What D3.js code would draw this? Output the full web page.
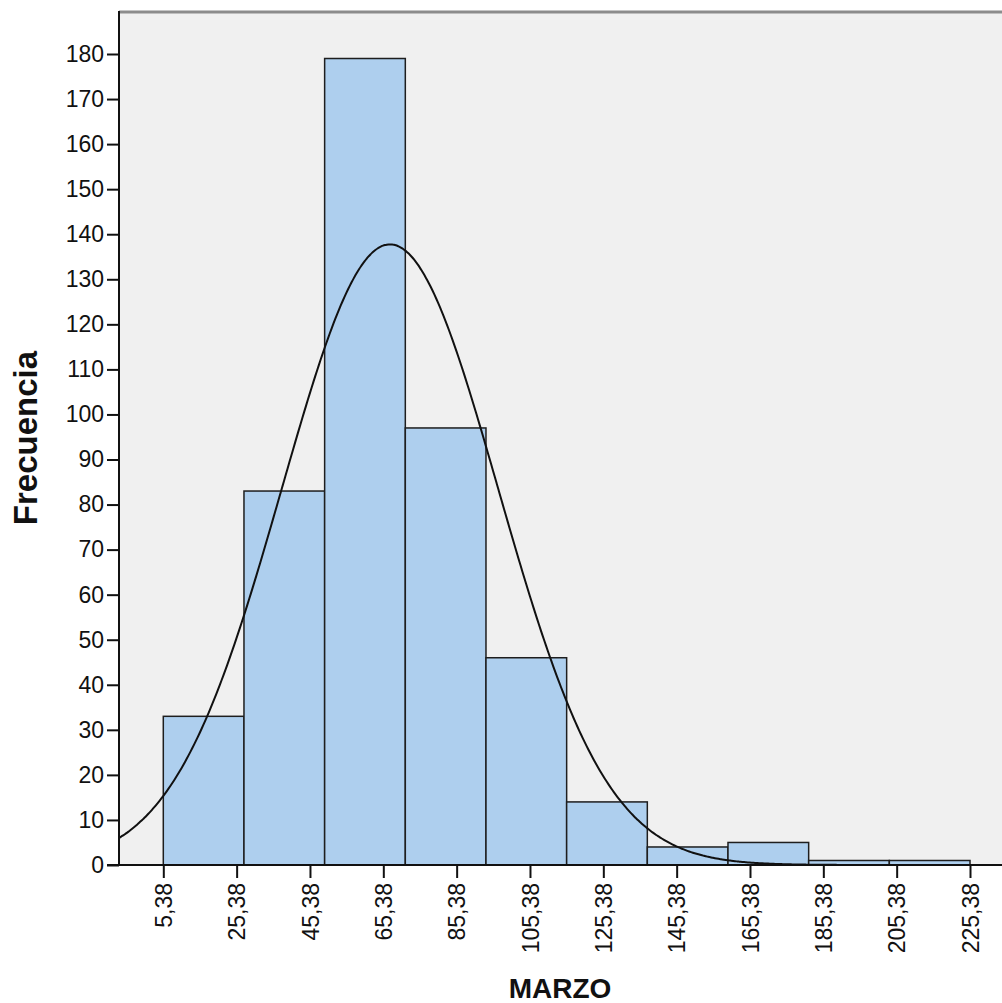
<!DOCTYPE html>
<html>
<head>
<meta charset="utf-8">
<script src="https://cdn.jsdelivr.net/npm/d3@7"></script>
<style>
  body { margin: 0; background: #fff; }
  svg text { font-family: "Liberation Sans", Arial, sans-serif; }
</style>
</head>
<body>
<div id="chart"></div>
<script>
// histogram of MARZO with normal curve

const binEdges = [5.38, 27.38, 49.38, 71.38, 93.38, 115.38, 137.38, 159.38, 181.38, 203.38, 225.38];
const counts = [33, 83, 179, 97, 46, 14, 4, 5, 1, 1];
const tickValues = [5.38, 25.38, 45.38, 65.38, 85.38, 105.38, 125.38, 145.38, 165.38, 185.38, 205.38, 225.38];
const tickLabels = ["5,38", "25,38", "45,38", "65,38", "85,38", "105,38", "125,38", "145,38", "165,38", "185,38", "205,38", "225,38"];
const yTicks = [0, 10, 20, 30, 40, 50, 60, 70, 80, 90, 100, 110, 120, 130, 140, 150, 160, 170, 180];
const fitMean = 67.2;
const fitSd = 29.5;

const width = 1002;
const height = 1003;
const plot = { left: 119, right: 1002, top: 12, bottom: 865 };

const svg = d3.select("#chart")
  .append("svg")
  .attr("width", width)
  .attr("height", height);

const x = d3.scaleLinear()
  .domain([5.38, 225.38])
  .range([163.3, 970]);

const y = d3.scaleLinear()
  .domain([0, 180])
  .range([865, 54]);

// plot background
svg.append("rect")
  .attr("x", plot.left)
  .attr("y", plot.top)
  .attr("width", plot.right - plot.left)
  .attr("height", plot.bottom - plot.top)
  .attr("fill", "#f0f0f0");

svg.append("defs").append("clipPath")
  .attr("id", "clip")
  .append("rect")
  .attr("x", plot.left)
  .attr("y", plot.top)
  .attr("width", plot.right - plot.left)
  .attr("height", plot.bottom - plot.top);

// bars
svg.append("g")
  .selectAll("rect")
  .data(counts)
  .enter()
  .append("rect")
  .attr("x", (d, i) => x(binEdges[i]))
  .attr("y", d => y(d))
  .attr("width", (d, i) => x(binEdges[i + 1]) - x(binEdges[i]))
  .attr("height", d => y(0) - y(d))
  .attr("fill", "#aecfee")
  .attr("stroke", "#1e1e1e")
  .attr("stroke-width", 1.5);

// normal curve
const N = d3.sum(counts);
const binW = binEdges[1] - binEdges[0];
const normal = v => N * binW / (fitSd * Math.sqrt(2 * Math.PI)) *
  Math.exp(-0.5 * Math.pow((v - fitMean) / fitSd, 2));

const xs = d3.range(x.invert(plot.left), x.invert(plot.right) + 0.5, 0.5);
const line = d3.line()
  .x(d => x(d))
  .y(d => y(normal(d)))
  .curve(d3.curveBasis);

svg.append("path")
  .datum(xs)
  .attr("clip-path", "url(#clip)")
  .attr("d", line)
  .attr("fill", "none")
  .attr("stroke", "#111")
  .attr("stroke-width", 2);

// top frame
svg.append("line")
  .attr("x1", plot.left).attr("x2", plot.right)
  .attr("y1", plot.top).attr("y2", plot.top)
  .attr("stroke", "#8c8c8c")
  .attr("stroke-width", 3);

// y axis
const yAxis = d3.axisLeft(y).tickValues(yTicks).tickSize(12).tickPadding(3);
const gy = svg.append("g")
  .attr("transform", `translate(${plot.left},0)`)
  .call(yAxis);
gy.select(".domain").remove();
gy.selectAll(".tick line").attr("stroke", "#111").attr("stroke-width", 2);
gy.selectAll(".tick text")
  .attr("font-size", 23)
  .attr("fill", "#111");

svg.append("line")
  .attr("x1", plot.left).attr("x2", plot.left)
  .attr("y1", plot.top - 1).attr("y2", plot.bottom)
  .attr("stroke", "#111")
  .attr("stroke-width", 2);

// x axis
const xAxis = d3.axisBottom(x)
  .tickValues(tickValues)
  .tickFormat((d, i) => tickLabels[i])
  .tickSize(13);
const gx = svg.append("g")
  .attr("transform", `translate(0,${plot.bottom})`)
  .call(xAxis);
gx.select(".domain").remove();
gx.selectAll(".tick line").attr("stroke", "#111").attr("stroke-width", 2);
gx.selectAll(".tick text")
  .attr("font-size", 23)
  .attr("fill", "#111")
  .attr("text-anchor", "end")
  .attr("transform", "translate(0,18) rotate(-90)")
  .attr("x", 0)
  .attr("y", 0)
  .attr("dy", "0.35em");

svg.append("line")
  .attr("x1", plot.left - 12).attr("x2", plot.right)
  .attr("y1", plot.bottom).attr("y2", plot.bottom)
  .attr("stroke", "#111")
  .attr("stroke-width", 2);

// axis titles
svg.append("text")
  .attr("transform", "translate(37,438) rotate(-90)")
  .attr("text-anchor", "middle")
  .attr("font-size", 33)
  .attr("font-weight", "bold")
  .attr("fill", "#111")
  .text("Frecuencia");

svg.append("text")
  .attr("x", 560)
  .attr("y", 998)
  .attr("text-anchor", "middle")
  .attr("font-size", 28)
  .attr("font-weight", "bold")
  .attr("fill", "#111")
  .text("MARZO");
</script>
</body>
</html>
